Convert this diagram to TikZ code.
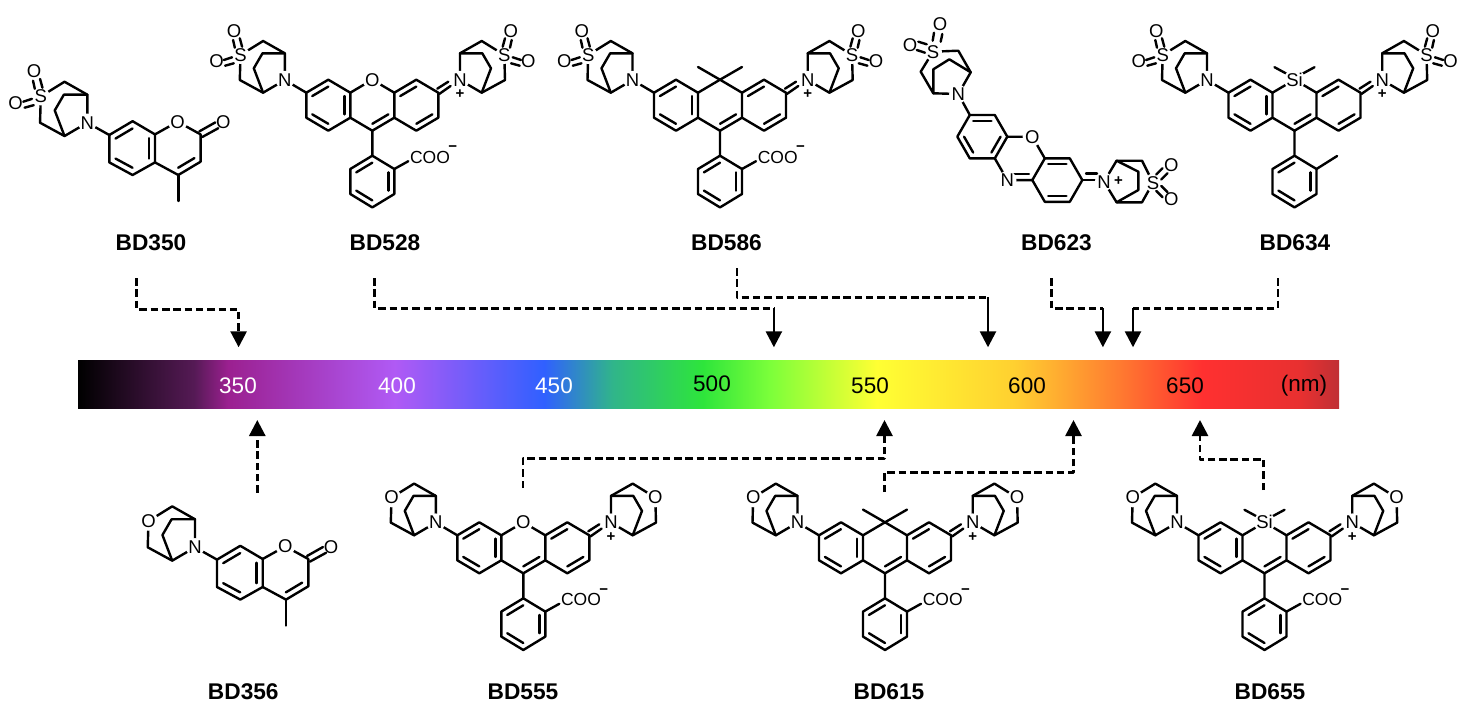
\documentclass[tikz,border=0pt]{standalone}
\usepackage{fontspec}
\setmainfont{Liberation Sans}
\usetikzlibrary{calc,arrows.meta}
\newcommand\fsz[1]{\fontsize{#1}{#1}\selectfont}
\definecolor{s0}{HTML}{000000}\definecolor{s1}{HTML}{551A55}\definecolor{s2}{HTML}{9B2090}
\definecolor{s3}{HTML}{B05AF5}\definecolor{s4}{HTML}{3060FF}\definecolor{s5}{HTML}{30B58A}
\definecolor{s6}{HTML}{2EE53B}\definecolor{s7}{HTML}{7CFF3A}\definecolor{s8}{HTML}{FFFF33}
\definecolor{s9}{HTML}{FFD030}\definecolor{s10}{HTML}{FF7A30}\definecolor{s11}{HTML}{FF3030}
\definecolor{s12}{HTML}{E83030}\definecolor{s13}{HTML}{C03035}
\pgfdeclarehorizontalshading{spectrum}{100bp}{color(0bp)=(s0);color(25bp)=(s0);color(29.6bp)=(s1);color(30.95bp)=(s2);color(37.57bp)=(s3);color(43.48bp)=(s4);color(46.2bp)=(s5);color(49.78bp)=(s6);color(52.44bp)=(s7);color(56.68bp)=(s8);color(62.11bp)=(s9);color(66.31bp)=(s10);color(69.57bp)=(s11);color(73.45bp)=(s12);color(75bp)=(s13);color(100bp)=(s13)}
\tikzset{
 bond/.style={line width=2.4pt,line cap=round,line join=round},
 atom/.style={circle,fill=white,inner sep=0pt,font=\fsz{18.5}},
 plainatom/.style={inner sep=0pt,font=\fsz{18.5}},
 cpd/.style={inner sep=0pt,font=\fsz{22.7}\bfseries},
 wl/.style={inner sep=0pt,font=\fsz{22.5}},
 dashline/.style={line width=2.7pt,dash pattern=on 7.5pt off 3.8pt,line join=round},
 solidtip/.style={line width=2.6pt,-{Triangle[width=16pt,length=16pt]}},
 dashtip/.style={line width=2.7pt,dash pattern=on 7.5pt off 3.8pt,line join=round,-{Triangle[width=16pt,length=16pt]}}
}
\newcommand\inb[3]{\draw[bond] ($#1!.27!#3$) -- ($#2!.27!#3$);}
\newcommand\bicy[6]{\begin{scope}[shift={(#2,#3)},xscale=#4,yscale=#5]
 \draw[bond] (0,0)--(0,-26.7)--(-21.7,-39)--(-44.3,-25)--(-45,0)--(-21.7,12.7)--cycle;
 \draw[bond] (0,-26.7)--(-22.3,-26.7)--(-31,-11.7)--(-21.7,12.7);
 \node[atom] (#1N) at (0,0) {N};
 \node[atom] (#1X) at (-44.3,-25) {#6};
\end{scope}}
\newcommand\sulf[5]{\begin{scope}[shift={(#2,#3)},xscale=#4,yscale=#5]
 \draw[bond] (-51.7,-40)--(-50,-32.3) (-45,-41.7)--(-42.7,-33.3);
 \draw[bond] (-61,-20)--(-52.7,-22.7) (-59.7,-14.3)--(-51,-16.7);
 \node[plainatom] (#1Oa) at (-50.7,-49.3) {O};
 \node[plainatom] (#1Ob) at (-68.3,-19) {O};
\end{scope}}
\newcommand\core[3]{\begin{scope}[shift={(#2,#3)}]
 \draw[bond] (0,0)--(-22,-13)--(-22,-38)--(-44,-51)--(-66,-38)--(-66,-13)--(-44,0)--(-22,-13);
 \draw[bond] (0,0)--(22,-13)--(22,-38)--(44,-51)--(66,-38)--(66,-13)--(44,0)--(22,-13);
 \draw[bond] (-22,-38)--(0,-51)--(22,-38);
 \draw[bond] (-66,-38)--(-87.5,-50.7);
 \inb{(-44,-51)}{(-66,-38)}{(-44,-25.5)}
 \inb{(-22,-38)}{(-22,-13)}{(-44,-25.5)}
 \inb{(-44,0)}{(-66,-13)}{(-44,-25.5)}
 \inb{(22,-38)}{(44,-51)}{(44,-25.5)}
 \inb{(44,0)}{(66,-13)}{(44,-25.5)}
 \inb{(0,0)}{(22,-13)}{(0,-25.5)}
 \draw[bond] (65,-42)--(76,-49) (67,-36.8)--(78.3,-44.7);
 \draw[bond] (0,0)--(0,25)--(22,38.3)--(22,63.3)--(0,76.7)--(-22,63.3)--(-22,38.3)--(0,25);
 \inb{(0,25)}{(-22,38.3)}{(0,50.8)}
 \inb{(22,38.3)}{(22,63.3)}{(0,50.8)}
 \inb{(0,76.7)}{(-22,63.3)}{(0,50.8)}
 \node[inner sep=0pt,font=\fsz{15}\bfseries] (#1plus) at (87.7,-36.2) {+};
\end{scope}}
\newcommand\coo[3]{\begin{scope}[shift={(#2,#3)}]
 \draw[bond] (22,38.3)--(36,30.5);
 \node[inner sep=0pt,font=\fsz{17.5}] (#1coo) at (57.7,26.5) {COO};
 \node[inner sep=0pt,font=\fsz{15}\bfseries] (#1minus) at (80.5,18.3) {−};
\end{scope}}
\newcommand\oxo[3]{\node[atom] (#1O) at ($(#2,#3)+(0,-51)$) {O};}
\newcommand\cmeth[3]{\begin{scope}[shift={(#2,#3)}]\draw[bond] (-22,-63.7)--(0,-51)--(22,-63.7);\end{scope}\coordinate (#1C) at (#2,#3);}
\newcommand\sil[3]{\begin{scope}[shift={(#2,#3)}]\draw[bond] (-20,-63.5)--(-8,-57) (20,-63.5)--(8,-57);\node[atom] (#1Si) at (0,-51) {Si};\end{scope}}
\newcommand\coum[3]{\begin{scope}[shift={(#2,#3)}]
 \draw[bond] (22,12.3)--(45.3,-1.5)--(67.7,11.7)--(67.7,39.7)--(45.3,52.3)--(22,39.7)--cycle;
 \draw[bond] (0,0)--(22,12.3);
 \draw[bond] (67.7,11.7)--(90.3,-1)--(113.3,11.7)--(113.3,39)--(91,52.3)--(67.7,39.7);
 \draw[bond] (91,52.3)--(91,78.3);
 \inb{(22,12.3)}{(45.3,-1.5)}{(45,25.5)}
 \inb{(67.7,11.7)}{(67.7,39.7)}{(45,25.5)}
 \inb{(22,39.7)}{(45.3,52.3)}{(45,25.5)}
 \inb{(91,52.3)}{(113.3,39)}{(90.5,25.5)}
 \draw[bond] (112,8.7)--(128,-0.3) (115,14.3)--(131,5.5);
 \node[atom] (#1Oa) at (90.3,-1) {O};
 \node[plainatom] (#1Ob) at (136,-0.3) {O};
\end{scope}}
\begin{document}
\begin{tikzpicture}[x=1pt,y=-1pt]
\useasboundingbox (0,0) rectangle (1470,712);
\fill[white] (0,0) rectangle (1470,712);
\shade[shading=spectrum] (78,360) rectangle (1339,408);
\node[wl,white] (w350) at (238,386) {350};
\node[wl,white] (w400) at (397,386) {400};
\node[wl,white] (w450) at (554,386) {450};
\node[wl] (w500) at (712,384) {500};
\node[wl] (w550) at (870,386) {550};
\node[wl] (w600) at (1027,386) {600};
\node[wl] (w650) at (1185,386) {650};
\node[wl] (wnm) at (1304,386) {(nm)};
% BD350
\coum{a}{87.3}{122.7}
\bicy{a}{87.3}{122.7}{1.05}{1.05}{S}
\sulf{a}{87.3}{122.7}{1.05}{1.05}
\node[cpd] (l350) at (151,243) {BD350};
% BD528
\core{b}{372.3}{130.7}\coo{b}{372.3}{130.7}\oxo{b}{372.3}{130.7}
\bicy{bl}{284.8}{80}{1}{1}{S}\sulf{bl}{284.8}{80}{1}{1}
\bicy{br}{460}{80}{-1}{1}{S}\sulf{br}{460}{80}{-1}{1}
\node[cpd] (l528) at (385,243) {BD528};
% BD586
\core{c}{720}{130.7}\coo{c}{720}{130.7}\cmeth{c}{720}{130.7}
\bicy{cl}{632.5}{80}{1}{1}{S}\sulf{cl}{632.5}{80}{1}{1}
\bicy{cr}{807.7}{80}{-1}{1}{S}\sulf{cr}{807.7}{80}{-1}{1}
\node[cpd] (l586) at (726.5,243) {BD586};
% BD623
\draw[bond] (969.8,115)--(994.8,115)--(1007.3,136.7)--(994.8,158.4)--(969.8,158.4)--(957.3,136.7)--cycle;
\draw[bond] (1007.3,136.7)--(1032.3,136.7)--(1044.8,158.4)--(1032.3,180.1)--(1007.3,180.1)--(994.8,158.4);
\draw[bond] (1044.8,158.4)--(1069.8,158.4)--(1082.3,180.1)--(1069.8,201.8)--(1044.8,201.8)--(1032.3,180.1);
\inb{(969.8,115)}{(994.8,115)}{(982.3,136.7)}
\inb{(1007.3,136.7)}{(994.8,158.4)}{(982.3,136.7)}
\inb{(969.8,158.4)}{(957.3,136.7)}{(982.3,136.7)}
\inb{(1007.3,180.1)}{(1032.3,180.1)}{(1019.8,158.4)}
\inb{(1044.8,158.4)}{(1069.8,158.4)}{(1057.3,180.1)}
\inb{(1069.8,201.8)}{(1044.8,201.8)}{(1057.3,180.1)}
\draw[bond] (1082.3,180.1)--(1097,180.1) (1086,173.5)--(1097,173.5);
\draw[bond] (969.8,115)--(958.3,94);
\draw[bond] (958.3,94)--(970.7,72.3)--(958.3,50.7)--(933,51.7)--(920.7,71.7)--(933.3,93.3)--cycle;
\draw[bond] (933.3,93.3)--(933.3,69.3)--(949.3,59.3)--(970.7,72.3);
\node[atom] (dN) at (958.3,94) {N};
\node[atom] (dS) at (933,51.7) {S};
\draw[bond] (932.7,40.7)--(934,32.7) (940.7,41.7)--(942.3,34);
\draw[bond] (918.3,41.7)--(926.7,44.3) (916.7,50)--(925,52.7);
\node[plainatom] (dOa) at (940,24) {O};
\node[plainatom] (dOb) at (910,45) {O};
\node[atom] (dO) at (1032.3,136.7) {O};
\node[atom] (dNb) at (1007.3,180.1) {N};
\draw[bond] (1104,181.7)--(1116.6,160.7)--(1142,160.7)--(1153,182.7)--(1142,202.3)--(1116.6,202.3)--cycle;
\draw[bond] (1116.6,160.7)--(1138.4,171.7)--(1138.4,190)--(1116.6,202.3);
\node[atom] (dNc) at (1104,181.7) {N};
\node[atom] (dSb) at (1153,182.7) {S};
\draw[bond] (1156.2,174.5)--(1162.5,168.2) (1161.2,179.5)--(1167.5,173.2);
\draw[bond] (1156.2,190.9)--(1162.5,197.2) (1161.2,185.9)--(1167.5,192.2);
\node[plainatom] (dOc) at (1171.2,165) {O};
\node[plainatom] (dOd) at (1171.2,199) {O};
\node[inner sep=0pt,font=\fsz{15}\bfseries] (dplus) at (1118.4,181.2) {+};
\node[cpd] (l623) at (1056.5,243) {BD623};
% BD634
\core{e}{1294.5}{130.7}\sil{e}{1294.5}{130.7}
\begin{scope}[shift={(1294.5,130.7)}]\draw[bond] (22,38.3)--(42.6,25.3);\end{scope}
\bicy{el}{1207}{80}{1}{1}{S}\sulf{el}{1207}{80}{1}{1}
\bicy{er}{1382.2}{80}{-1}{1}{S}\sulf{er}{1382.2}{80}{-1}{1}
\node[cpd] (l634) at (1295,243) {BD634};
% BD356
\coum{f}{195}{547.3}
\bicy{f}{195}{547.3}{1.05}{1.05}{O}
\node[cpd] (l356) at (243.3,692) {BD356};
% BD555
\core{g}{523.3}{573.3}\coo{g}{523.3}{573.3}\oxo{g}{523.3}{573.3}
\bicy{gl}{435.8}{522.6}{1}{1}{O}
\bicy{gr}{611}{522.6}{-1}{1}{O}
\node[cpd] (l555) at (523,692) {BD555};
% BD615
\core{h}{885}{573.3}\coo{h}{885}{573.3}\cmeth{h}{885}{573.3}
\bicy{hl}{797.5}{522.6}{1}{1}{O}
\bicy{hr}{972.7}{522.6}{-1}{1}{O}
\node[cpd] (l615) at (889,692) {BD615};
% BD655
\core{i}{1264.5}{573.3}\coo{i}{1264.5}{573.3}\sil{i}{1264.5}{573.3}
\bicy{il}{1177}{522.6}{1}{1}{O}
\bicy{ir}{1352.2}{522.6}{-1}{1}{O}
\node[cpd] (l655) at (1270,692) {BD655};
% connectors
\coordinate (p1a) at (136.8,278);\coordinate (p1b) at (136.8,309.3);\coordinate (p1c) at (238.6,309.3);\coordinate (p1t) at (238.6,347.3);
\draw[dashtip] (p1a)--(p1b)--(p1c)--(p1t);
\coordinate (p2a) at (374.7,278);\coordinate (p2b) at (374.7,308.3);\coordinate (p2c) at (773.9,308.3);\coordinate (p2t) at (773.9,347.3);
\draw[dashline] (p2a)--(p2b)--(p2c);\draw[solidtip] (p2c)--(p2t);
\coordinate (p3a) at (737,268);\coordinate (p3b) at (737,297.3);\coordinate (p3c) at (988,297.3);\coordinate (p3t) at (988,347.3);
\draw[dashline] (p3a)--(p3b)--(p3c);\draw[solidtip] (p3c)--(p3t);
\coordinate (p4a) at (1051.4,278);\coordinate (p4b) at (1051.4,308.3);\coordinate (p4c) at (1102.9,308.3);\coordinate (p4t) at (1102.9,347.3);
\draw[dashline] (p4a)--(p4b)--(p4c);\draw[solidtip] (p4c)--(p4t);
\coordinate (p5a) at (1278,278);\coordinate (p5b) at (1278,308.3);\coordinate (p5c) at (1133,308.3);\coordinate (p5t) at (1133,347.3);
\draw[dashline] (p5a)--(p5b)--(p5c);\draw[solidtip] (p5c)--(p5t);
\coordinate (q1a) at (257.3,492.7);\coordinate (q1t) at (257.3,420);
\draw[dashtip] (q1a)--(q1t);
\coordinate (q2a) at (523,488);\coordinate (q2b) at (523,458.3);\coordinate (q2c) at (884.5,458.3);\coordinate (q2t) at (884.5,420);
\draw[dashtip] (q2a)--(q2b)--(q2c)--(q2t);
\coordinate (q3a) at (884.5,492);\coordinate (q3b) at (884.5,472.3);\coordinate (q3c) at (1073.5,472.3);\coordinate (q3t) at (1073.5,420);
\draw[dashtip] (q3a)--(q3b)--(q3c)--(q3t);
\coordinate (q4a) at (1263.7,490);\coordinate (q4b) at (1263.7,459.3);\coordinate (q4c) at (1200,459.3);\coordinate (q4t) at (1200,420);
\draw[dashtip] (q4a)--(q4b)--(q4c)--(q4t);
\end{tikzpicture}
\end{document}
